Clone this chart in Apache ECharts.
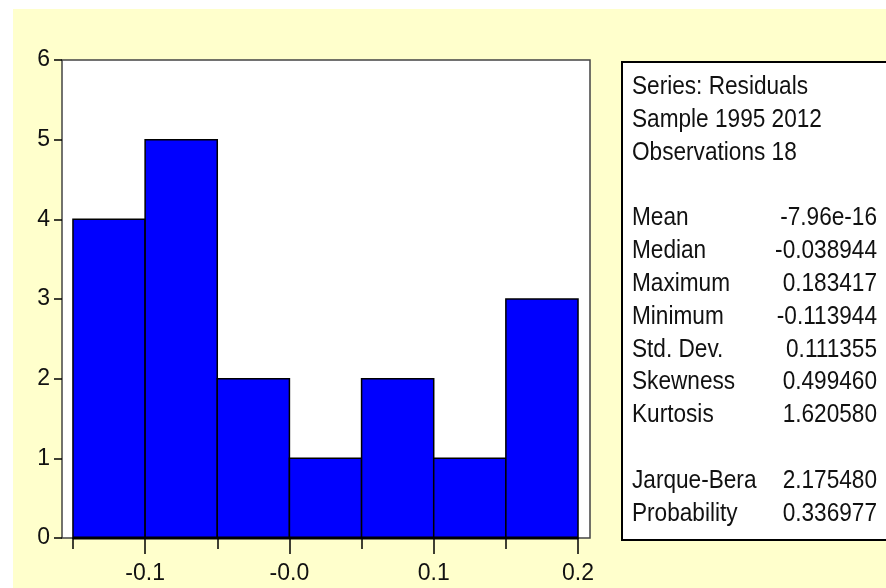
<!DOCTYPE html>
<html>
<head>
<meta charset="utf-8">
<script src="https://cdn.jsdelivr.net/npm/echarts@6/dist/echarts.min.js"></script>
<style>
html,body{margin:0;padding:0;background:#fff;}
#wrap{position:relative;width:886px;height:588px;background:#fff;overflow:hidden;}
#bg{position:absolute;left:13px;top:9px;right:0;bottom:0;background:#FFFFCC;}
#chart{position:absolute;left:0;top:0;width:886px;height:588px;}
</style>
</head>
<body>
<div id="wrap"><div id="bg"></div><div id="chart"></div></div>
<script>
// Histogram data
const binLow  = [-0.15, -0.10, -0.05, 0.00, 0.05, 0.10, 0.15];
const binHigh = [-0.10, -0.05,  0.00, 0.05, 0.10, 0.15, 0.20];
const counts  = [4, 5, 2, 1, 2, 1, 3];

// Axis ticks
const xMajorTicks = [-0.1, 0.0, 0.1, 0.2];
const xMinorTicks = [-0.15, -0.05, 0.05, 0.15];
const xTickLabels = ['-0.1', '-0.0', '0.1', '0.2'];

// Statistics panel
const headerLines = ['Series: Residuals', 'Sample 1995 2012', 'Observations 18'];
const statLabels = ['Mean', 'Median', 'Maximum', 'Minimum', 'Std. Dev.', 'Skewness', 'Kurtosis'];
const statValues = ['-7.96e-16', '-0.038944', '0.183417', '-0.113944', '0.111355', '0.499460', '1.620580'];
const testLabels = ['Jarque-Bera', 'Probability'];
const testValues = ['2.175480', '0.336977'];

const FONT = '"Liberation Sans", Arial, sans-serif';
const TXT = '#111';
const FS = 26;
const AXFS = 23;
const SX = 0.87;

const data = binLow.map((lo, i) => [lo, binHigh[i], counts[i]]);

// Build stats panel graphics
const g = [];
const boxX = 622, boxY = 62, lineY0 = 87, lineH = 32.8, labX = 632, valX = 877;
g.push({type:'rect', shape:{x:boxX, y:boxY, width:300, height:478},
  style:{fill:'#fff', stroke:'#000', lineWidth:2}, z:10});
const rows = [];
headerLines.forEach(t => rows.push([t, '']));
rows.push(null);
statLabels.forEach((t, i) => rows.push([t, statValues[i]]));
rows.push(null);
testLabels.forEach((t, i) => rows.push([t, testValues[i]]));
rows.forEach((r, i) => {
  if (!r) return;
  const y = lineY0 + i * lineH;
  g.push({type:'text', x:labX, y:y, scaleX:SX, z:11,
    style:{text:r[0], fill:TXT, font:FS+'px '+FONT, textAlign:'left', textVerticalAlign:'middle'}});
  if (r[1]) g.push({type:'text', x:valX, y:y, scaleX:SX, z:11,
    style:{text:r[1], fill:TXT, font:FS+'px '+FONT, textAlign:'right', textVerticalAlign:'middle'}});
});

const chart = echarts.init(document.getElementById('chart'), null, {renderer:'canvas'});
const xBase = {
  type:'value', min:-0.1576, max:0.2083, position:'bottom',
  axisLine:{show:false, onZero:false}, splitLine:{show:false}
};
chart.setOption({
  backgroundColor:'transparent',
  animation:false,
  grid:{left:62, top:60, right:296, bottom:50, show:true, backgroundColor:'#fff',
        borderColor:'#444', borderWidth:1.5},
  xAxis:[
    Object.assign({}, xBase, {
      axisTick:{show:true, customValues:xMajorTicks, length:16, lineStyle:{color:'#000', width:1.5}},
      axisLabel:{show:true, customValues:xMajorTicks, margin:24, color:TXT, fontSize:AXFS, fontFamily:FONT,
        formatter:v => { const i = xMajorTicks.findIndex(t => Math.abs(t - v) < 1e-9); return i >= 0 ? xTickLabels[i] : ''; }}
    }),
    Object.assign({}, xBase, {
      axisTick:{show:true, customValues:xMinorTicks, length:11, lineStyle:{color:'#000', width:1.5}},
      axisLabel:{show:false}
    })
  ],
  yAxis:{
    type:'value', min:0, max:6, interval:1,
    axisLine:{show:false, onZero:false}, splitLine:{show:false},
    axisTick:{show:true, length:8, lineStyle:{color:'#000', width:1.5}},
    axisLabel:{margin:12, color:TXT, fontSize:AXFS, fontFamily:FONT}
  },
  graphic:g,
  series:[{
    type:'custom',
    xAxisIndex:0,
    data:data,
    encode:{x:[0,1], y:2},
    renderItem:(params, api) => {
      const p0 = api.coord([api.value(0), 0]);
      const p1 = api.coord([api.value(1), api.value(2)]);
      return {type:'group', children:[
        {type:'rect', shape:{x:p0[0], y:p1[1], width:p1[0]-p0[0], height:p0[1]-p1[1]},
          style:{fill:'#0000FF', stroke:'#000', lineWidth:1.5}},
        {type:'line', shape:{x1:p0[0], y1:p0[1], x2:p1[0], y2:p0[1]},
          style:{stroke:'#000', lineWidth:3}}
      ]};
    }
  }]
});
</script>
</body>
</html>
